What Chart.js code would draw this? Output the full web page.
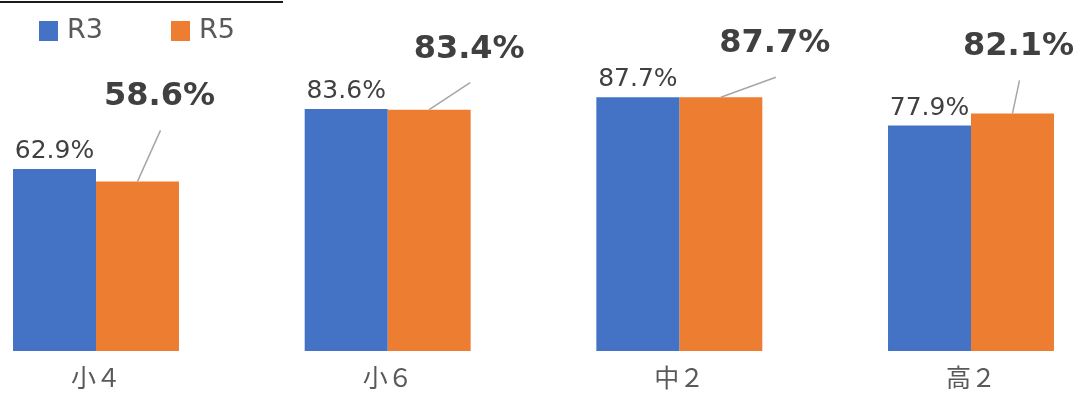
<!DOCTYPE html>
<html lang="ja">
<head>
<meta charset="utf-8">
<title>R3 / R5</title>
<script src="https://cdn.jsdelivr.net/npm/chart.js@4/dist/chart.umd.min.js"></script>
<style>
    html, body { margin: 0; padding: 0; background: #fff; overflow: hidden; }
    #wrap { position: relative; width: 1091px; height: 398px; }
    #topRule { position: absolute; left: 0; top: 1px; width: 283px; height: 2px; background: #1a1a1a; }
</style>
</head>
<body>
<div id="wrap">
    <canvas id="chart" width="1091" height="398"></canvas>
    <div id="topRule"></div>
</div>
<script>
var grades = ['小４', '小６', '中２', '高２'];
var r3Values = [62.9, 83.6, 87.7, 77.9];
var r5Values = [58.6, 83.4, 87.7, 82.1];

// where the bold R5 callouts sit relative to the top of their bar (dx, dy)
var calloutOffsets = [[22, -76], [40, -52], [54, -45], [6, -58]];

var textColor = '#404040';
var legendColor = '#595959';

// value labels, callouts with leader lines and the legend
var labelPlugin = {
    id: 'barLabels',
    afterDatasetsDraw: function (chart) {
        var ctx = chart.ctx;
        var r3Bars = chart.getDatasetMeta(0).data;
        var r5Bars = chart.getDatasetMeta(1).data;
        ctx.save();
        ctx.textAlign = 'center';
        ctx.textBaseline = 'alphabetic';
        ctx.fillStyle = textColor;

        ctx.font = '25px "DejaVu Sans"';
        r3Bars.forEach(function (bar, i) {
            ctx.fillText(r3Values[i].toFixed(1) + '%', bar.x, bar.y - 11);
        });

        ctx.font = 'bold 32px "DejaVu Sans"';
        r5Bars.forEach(function (bar, i) {
            var tx = bar.x + calloutOffsets[i][0];
            var ty = bar.y + calloutOffsets[i][1];
            ctx.fillStyle = textColor;
            ctx.fillText(r5Values[i].toFixed(1) + '%', tx, ty);
            ctx.beginPath();
            ctx.strokeStyle = '#a6a6a6';
            ctx.lineWidth = 1.5;
            ctx.moveTo(tx + 1, ty + 25);
            ctx.lineTo(bar.x, bar.y);
            ctx.stroke();
        });

        // legend
        ctx.font = '27px "DejaVu Sans"';
        ctx.textAlign = 'left';
        var legendX = [39, 171];
        chart.data.datasets.forEach(function (ds, i) {
            ctx.fillStyle = ds.backgroundColor;
            ctx.fillRect(legendX[i], 21, 19, 20);
            ctx.fillStyle = legendColor;
            ctx.fillText(ds.label, legendX[i] + 28, 38);
        });
        ctx.restore();
    }
};

new Chart(document.getElementById('chart'), {
    type: 'bar',
    data: {
        labels: grades,
        datasets: [
            { label: 'R3', data: r3Values, backgroundColor: '#4472c4', clip: false },
            { label: 'R5', data: r5Values, backgroundColor: '#ed7d31', clip: false }
        ]
    },
    options: {
        responsive: false,
        animation: false,
        categoryPercentage: 0.569,
        barPercentage: 1.0,
        layout: { padding: { left: 96, right: 120, top: 61.6, bottom: 0 } },
        plugins: {
            legend: { display: false },
            tooltip: { enabled: false }
        },
        scales: {
            x: {
                offset: false,
                grid: { display: false, drawTicks: false },
                border: { display: false },
                ticks: {
                    color: legendColor,
                    padding: 11,
                    font: { family: '"Noto Sans CJK JP"', size: 25 }
                },
                afterFit: function (scale) { scale.height = 47; }
            },
            y: {
                display: false,
                min: 0,
                max: 100
            }
        }
    },
    plugins: [labelPlugin]
});
</script>
</body>
</html>
